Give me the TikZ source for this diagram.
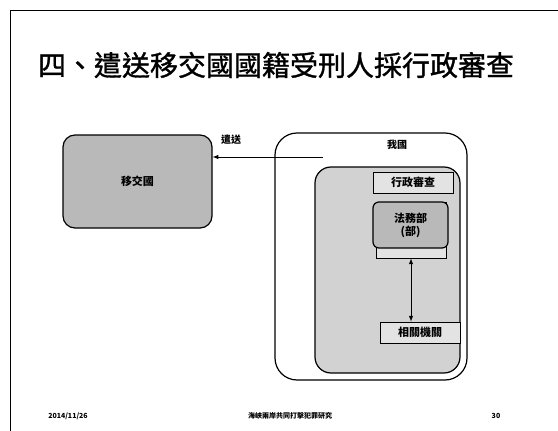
\documentclass[tikz,border=0pt]{standalone}
\usepackage{fontspec}
\newfontfamily\cjk{Noto Sans CJK TC}
\newfontfamily\cjktitle[FakeBold=1.2]{Noto Sans CJK TC}
\usetikzlibrary{positioning}
\tikzset{
	box/.style = {draw, line width=1.2pt, inner sep=0pt},
	tag/.style = {draw, line width=.8pt, inner sep=0pt, fill=gray!22,
	 minimum width=80pt, minimum height=21pt,
	 font=\cjk\bfseries\fontsize{11}{11}\selectfont},
	lbl/.style = {font=\cjk\bfseries\fontsize{10}{10}\selectfont},
	foot/.style = {font=\cjk\bfseries\fontsize{7}{7}\selectfont}
	}

\begin{document}
\begin{tikzpicture}[x=1pt, y=-1pt, line width=1pt]
\useasboundingbox (0,0) rectangle (558,431);
\draw (10,431) -- (10,10) -- (558,10);

% NODES
% title
\node (title) at (276,65) {\cjktitle\fontsize{28}{28}\selectfont 四、遣送移交國國籍受刑人採行政審查};
% receiving state
\node (yj) [box, rounded corners=12pt, fill=gray!55, minimum width=149pt, minimum height=93pt]
 at (137.5,181.5) {\cjk\bfseries\fontsize{11}{11}\selectfont 移交國};
% our state
\node (wg) [box, rounded corners=22pt, fill=white, minimum width=192pt, minimum height=247pt] at (371,256.5) {};
\node (wglabel) [lbl, below=4pt of wg.north, xshift=26pt] {我國};
\node (inner) [box, rounded corners=16pt, fill=gray!35, minimum width=145pt, minimum height=206pt] at (387.5,270) {};
\node (xz) [tag] at (413,182.5) {行政審查};
\node (fabase) [draw, line width=.8pt, fill=gray!22, minimum width=70pt, minimum height=56pt] at (411,230) {};
\node (fa) [box, rounded corners=6pt, fill=gray!55, minimum width=75pt, minimum height=46pt,
 align=center, font=\cjk\bfseries\fontsize{11}{13}\selectfont] at (410.5,225) {法務部\\(部)};
\node (xg) [tag] at (420,332.5) {相關機關};
% send
\coordinate (from) at (323,157);
\node (send) [lbl] at (231,140) {遣送};
% footer
\node (date) [foot] at (68,416) {2014/11/26};
\node (src) [foot] at (290,416) {海峽兩岸共同打擊犯罪研究};
\node (page) [foot] at (496,416) {30};

%CONNECTIONS
\draw [-latex] (from) -- (yj.east |- from);
\draw [latex-latex] (fabase.south) -- (fabase.south |- xg.north);

\end{tikzpicture}
\end{document}
